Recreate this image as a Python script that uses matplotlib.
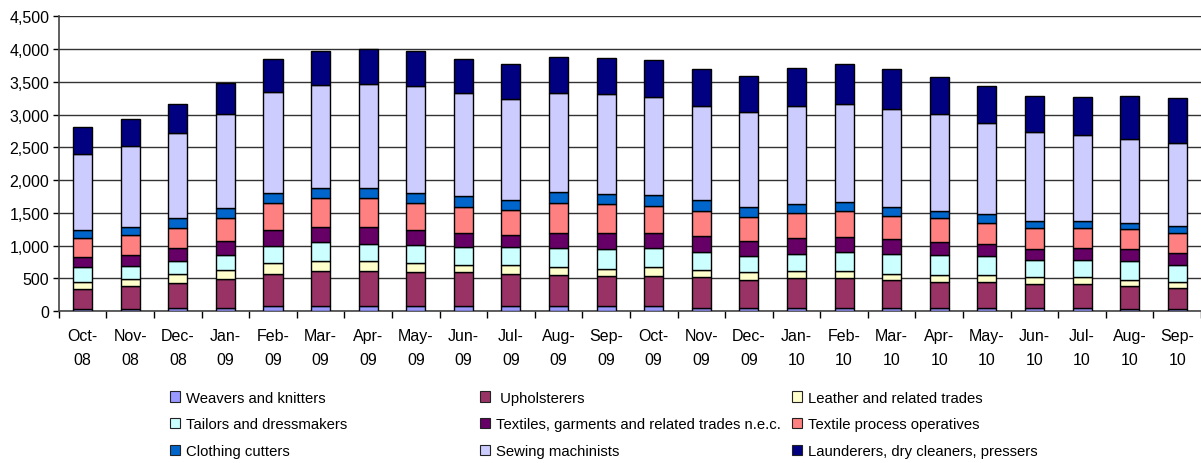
"""
Stacked monthly counts for textile and garment trade occupations, Oct-08 to Sep-10
"""
import numpy as np
import matplotlib
matplotlib.use("Agg")
import matplotlib.pyplot as plt
from matplotlib.patches import Patch

plt.rcParams['font.family'] = ['Liberation Sans', 'DejaVu Sans']

months = ['Oct-\n08', 'Nov-\n08', 'Dec-\n08', 'Jan-\n09', 'Feb-\n09', 'Mar-\n09',
          'Apr-\n09', 'May-\n09', 'Jun-\n09', 'Jul-\n09', 'Aug-\n09', 'Sep-\n09',
          'Oct-\n09', 'Nov-\n09', 'Dec-\n09', 'Jan-\n10', 'Feb-\n10', 'Mar-\n10',
          'Apr-\n10', 'May-\n10', 'Jun-\n10', 'Jul-\n10', 'Aug-\n10', 'Sep-\n10']

weavers = [40, 40, 55, 55, 75, 75, 75, 75, 75, 75, 75, 75,
           75, 55, 55, 55, 55, 55, 55, 55, 55, 55, 40, 40]
upholsterers = [300, 340, 380, 435, 495, 540, 540, 520, 520, 495, 485, 470,
                470, 465, 425, 445, 455, 420, 385, 385, 360, 360, 345, 310]
leather = [100, 110, 130, 140, 160, 145, 145, 135, 115, 140, 110, 105,
           125, 110, 115, 110, 100, 100, 115, 115, 100, 100, 95, 90]
tailors = [230, 195, 195, 225, 270, 290, 270, 285, 270, 270, 290, 295,
           290, 270, 250, 270, 300, 305, 300, 290, 270, 270, 280, 270]
textiles_nec = [155, 175, 200, 215, 235, 230, 250, 220, 215, 190, 235, 250,
                235, 250, 230, 230, 230, 215, 200, 175, 160, 175, 185, 175]
process_ops = [290, 310, 305, 345, 415, 445, 445, 415, 395, 370, 455, 435,
               415, 385, 360, 385, 395, 360, 365, 320, 325, 310, 305, 305]
cutters = [120, 110, 150, 160, 155, 155, 155, 155, 165, 155, 165, 155,
           165, 155, 155, 140, 130, 140, 115, 140, 110, 110, 100, 115]
machinists = [1165, 1235, 1305, 1435, 1540, 1575, 1590, 1630, 1570, 1540, 1510, 1535,
              1495, 1435, 1445, 1490, 1495, 1490, 1475, 1395, 1360, 1305, 1275, 1265]
launderers = [410, 410, 445, 470, 500, 510, 530, 540, 525, 540, 545, 545,
              565, 565, 550, 585, 605, 605, 570, 565, 550, 585, 665, 680]

names = ['Weavers and knitters', ' Upholsterers', 'Leather and related trades',
         'Tailors and dressmakers', 'Textiles, garments and related trades n.e.c.',
         'Textile process operatives', 'Clothing cutters', 'Sewing machinists',
         'Launderers, dry cleaners, pressers']
series = [weavers, upholsterers, leather, tailors, textiles_nec, process_ops,
          cutters, machinists, launderers]
colours = ['#9999FF', '#993366', '#FFFFCC', '#CCFFFF', '#660066',
           '#FF8080', '#0066CC', '#CCCCFF', '#000080']

fig = plt.figure(figsize=(12.01, 4.64), dpi=100)
ax = fig.add_axes([0.049, 0.327, 0.951, 0.636])

x = np.arange(len(months))
bottom = np.zeros(len(months))
for vals, col, name in zip(series, colours, names):
    ax.bar(x, vals, bottom=bottom, width=0.4, color=col, edgecolor='black',
           linewidth=1.0, label=name, zorder=3)
    bottom += np.array(vals)

ax.set_xlim(-0.5, len(months) - 0.5)
ax.set_ylim(0, 4500)
ax.set_yticks(np.arange(0, 4501, 500))
ax.set_yticklabels(['{:,}'.format(v) for v in range(0, 4501, 500)], fontsize=11.5)
ax.yaxis.grid(True, color='#333333', linewidth=1.0, zorder=0)

ax.set_xticks(x)
ax.set_xticklabels(months, fontsize=11.5, linespacing=1.75)
ax.set_xticks(np.arange(-0.5, len(months), 1), minor=True)
ax.tick_params(axis='x', which='major', length=0, pad=12)
ax.tick_params(axis='x', which='minor', length=5, width=1, direction='out')
ax.tick_params(axis='y', length=4, width=1, pad=3)

for s in ['top', 'right']:
    ax.spines[s].set_visible(False)
for s in ['left', 'bottom']:
    ax.spines[s].set_linewidth(1.2)
    ax.spines[s].set_color('#444444')

# legend laid out row by row in three fixed columns
handles = [Patch(facecolor=c, edgecolor='#222222', linewidth=0.8) for c in colours]
col_x = [0.1415, 0.3997, 0.6594]
for ci in range(3):
    idx = [ci, ci + 3, ci + 6]
    fig.legend([handles[i] for i in idx], [names[i] for i in idx],
               loc='upper left', bbox_to_anchor=(col_x[ci], 0.156),
               bbox_transform=fig.transFigure,
               frameon=False, fontsize=10.7, handlelength=0.7, handleheight=0.7,
               handletextpad=0.4, labelspacing=0.86, borderaxespad=0, borderpad=0)

fig.savefig('out.png', dpi=100)
